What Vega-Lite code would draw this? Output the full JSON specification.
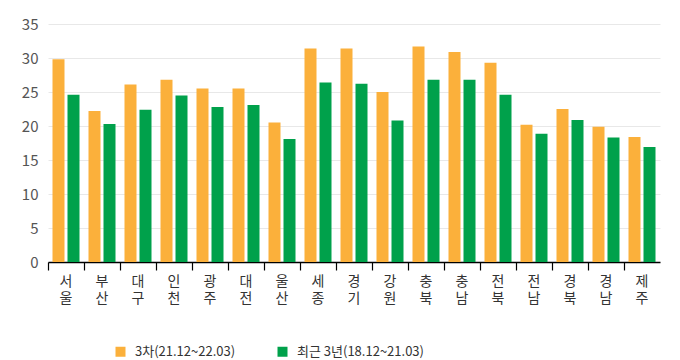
{
  "$schema": "https://vega.github.io/schema/vega-lite/v6.json",
  "width": 612,
  "height": 238,
  "autosize": "none",
  "padding": {"left": 48, "top": 24, "right": 20, "bottom": 98},
  "background": "white",
  "config": {
    "font": "Noto Sans CJK KR",
    "view": {"stroke": null}
  },
  "data": {
    "values": [
      {"region": "서울", "series": "3차(21.12~22.03)", "value": 29.8},
      {"region": "서울", "series": "최근 3년(18.12~21.03)", "value": 24.6},
      {"region": "부산", "series": "3차(21.12~22.03)", "value": 22.2},
      {"region": "부산", "series": "최근 3년(18.12~21.03)", "value": 20.3},
      {"region": "대구", "series": "3차(21.12~22.03)", "value": 26.1},
      {"region": "대구", "series": "최근 3년(18.12~21.03)", "value": 22.4},
      {"region": "인천", "series": "3차(21.12~22.03)", "value": 26.8},
      {"region": "인천", "series": "최근 3년(18.12~21.03)", "value": 24.5},
      {"region": "광주", "series": "3차(21.12~22.03)", "value": 25.5},
      {"region": "광주", "series": "최근 3년(18.12~21.03)", "value": 22.8},
      {"region": "대전", "series": "3차(21.12~22.03)", "value": 25.5},
      {"region": "대전", "series": "최근 3년(18.12~21.03)", "value": 23.1},
      {"region": "울산", "series": "3차(21.12~22.03)", "value": 20.5},
      {"region": "울산", "series": "최근 3년(18.12~21.03)", "value": 18.1},
      {"region": "세종", "series": "3차(21.12~22.03)", "value": 31.4},
      {"region": "세종", "series": "최근 3년(18.12~21.03)", "value": 26.4},
      {"region": "경기", "series": "3차(21.12~22.03)", "value": 31.4},
      {"region": "경기", "series": "최근 3년(18.12~21.03)", "value": 26.2},
      {"region": "강원", "series": "3차(21.12~22.03)", "value": 25.0},
      {"region": "강원", "series": "최근 3년(18.12~21.03)", "value": 20.8},
      {"region": "충북", "series": "3차(21.12~22.03)", "value": 31.7},
      {"region": "충북", "series": "최근 3년(18.12~21.03)", "value": 26.8},
      {"region": "충남", "series": "3차(21.12~22.03)", "value": 30.9},
      {"region": "충남", "series": "최근 3년(18.12~21.03)", "value": 26.8},
      {"region": "전북", "series": "3차(21.12~22.03)", "value": 29.3},
      {"region": "전북", "series": "최근 3년(18.12~21.03)", "value": 24.6},
      {"region": "전남", "series": "3차(21.12~22.03)", "value": 20.2},
      {"region": "전남", "series": "최근 3년(18.12~21.03)", "value": 18.85},
      {"region": "경북", "series": "3차(21.12~22.03)", "value": 22.5},
      {"region": "경북", "series": "최근 3년(18.12~21.03)", "value": 20.9},
      {"region": "경남", "series": "3차(21.12~22.03)", "value": 19.9},
      {"region": "경남", "series": "최근 3년(18.12~21.03)", "value": 18.3},
      {"region": "제주", "series": "3차(21.12~22.03)", "value": 18.4},
      {"region": "제주", "series": "최근 3년(18.12~21.03)", "value": 16.9}
    ]
  },
  "mark": {"type": "bar"},
  "encoding": {
    "x": {
      "field": "region",
      "type": "nominal",
      "sort": null,
      "title": null,
      "scale": {"paddingInner": 0, "paddingOuter": 0},
      "axis": {
        "labelAngle": 0,
        "bandPosition": 0,
        "labelExpr": "split(datum.label, '')",
        "labelFont": "Noto Sans CJK KR",
        "labelFontSize": 14,
        "labelColor": "#333333",
        "labelLineHeight": 17,
        "labelPadding": 4,
        "domainColor": "#000000",
        "domainWidth": 1.5,
        "tickColor": "#000000",
        "tickSize": 8,
        "tickWidth": 1.2,
        "grid": false
      }
    },
    "xOffset": {
      "field": "series",
      "type": "nominal",
      "sort": null,
      "scale": {"paddingInner": 0.2, "paddingOuter": 0.3}
    },
    "y": {
      "field": "value",
      "type": "quantitative",
      "title": null,
      "scale": {"domain": [0, 35], "nice": false},
      "axis": {
        "values": [0, 5, 10, 15, 20, 25, 30, 35],
        "domain": false,
        "ticks": false,
        "grid": true,
        "gridColor": "#e8e8e8",
        "labelFont": "Noto Sans CJK KR",
        "labelFontSize": 15,
        "labelColor": "#555555",
        "labelPadding": 10
      }
    },
    "color": {
      "field": "series",
      "type": "nominal",
      "sort": null,
      "title": null,
      "scale": {"range": ["#FBB03B", "#00A14B"]},
      "legend": {
        "orient": "none",
        "legendX": 66,
        "legendY": 321,
        "direction": "horizontal",
        "symbolType": "square",
        "symbolSize": 100,
        "symbolStrokeWidth": 0,
        "labelFont": "Noto Sans CJK KR",
        "labelFontSize": 13,
        "labelColor": "#333333",
        "labelLimit": 300,
        "columnPadding": 40,
        "labelOffset": 8
      }
    }
  }
}
